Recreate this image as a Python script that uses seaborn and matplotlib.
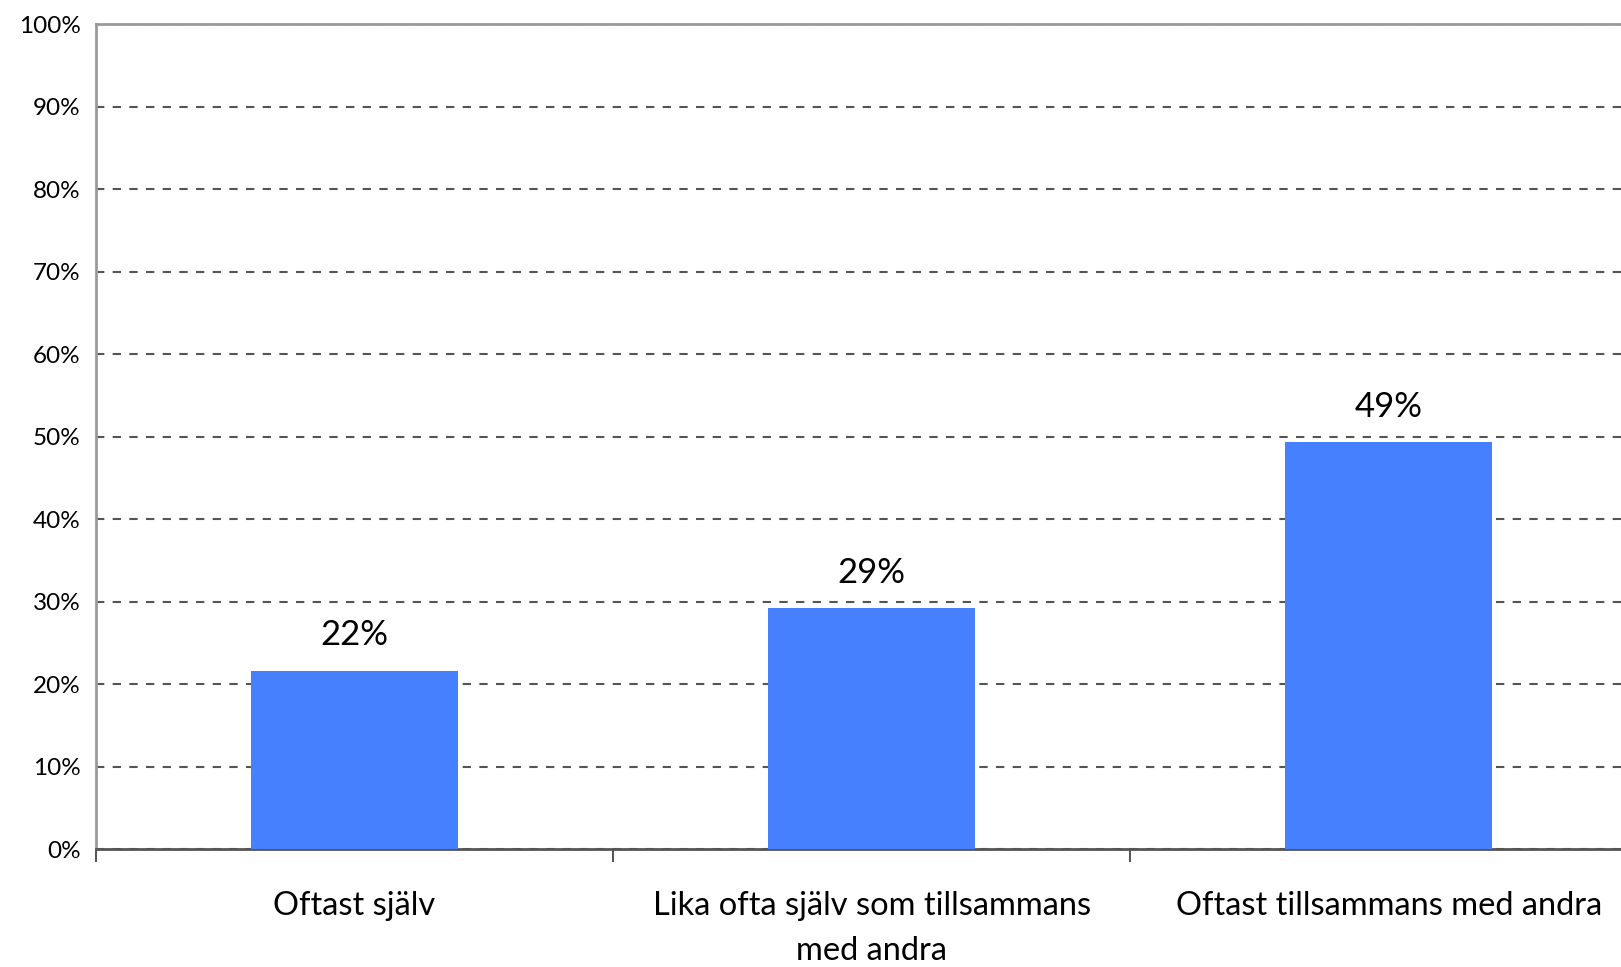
import matplotlib
matplotlib.use("Agg")
import matplotlib.pyplot as plt
import seaborn as sns
import pandas as pd
from matplotlib.ticker import MultipleLocator, FuncFormatter, FixedLocator

categories = ["Oftast själv",
              "Lika ofta själv som tillsammans\nmed andra",
              "Oftast tillsammans med andra"]
shares = [21.6, 29.2, 49.3]

sns.set_theme(style="white")
plt.rcParams["font.family"] = ["Lato", "DejaVu Sans"]

df = pd.DataFrame({"kategori": categories, "andel": shares})

fig = plt.figure(figsize=(16.21, 9.67), dpi=100)
ax = fig.add_axes([0.0592, 0.122, 0.957, 0.853])

sns.barplot(data=df, x="kategori", y="andel", color="#4680FF",
            saturation=1, width=0.4, linewidth=0, ax=ax, zorder=3)

ax.set_xlim(-0.5, 2.5)
ax.set_ylim(0, 100)
ax.yaxis.set_major_locator(MultipleLocator(10))
ax.yaxis.set_major_formatter(FuncFormatter(lambda v, p: f"{v:.0f}%"))
ax.grid(axis="y", linestyle=(0, (4, 4)), color="#555555", linewidth=1.5, zorder=0)
ax.grid(axis="x", visible=False)

for side in ("top", "left"):
    ax.spines[side].set_color("#9a9a9a")
    ax.spines[side].set_linewidth(2)
ax.spines["bottom"].set_color("#555555")
ax.spines["bottom"].set_linewidth(2)
ax.spines["right"].set_visible(False)

ax.tick_params(axis="y", length=0, labelsize=17.5, pad=11, labelcolor="black")
ax.tick_params(axis="x", which="major", length=0, labelsize=23.5, pad=30, labelcolor="black")
ax.xaxis.set_minor_locator(FixedLocator([-0.5, 0.5, 1.5]))
ax.tick_params(axis="x", which="minor", bottom=True, length=9, width=1.3,
               color="#444444", direction="out")
for lbl in ax.get_xticklabels():
    lbl.set_linespacing(1.62)

ax.set_xlabel("")
ax.set_ylabel("")

ax.bar_label(ax.containers[0], labels=[f"{v:.0f}%" for v in shares],
             padding=14, fontsize=25, color="black")

fig.savefig("out.png", dpi=100)
